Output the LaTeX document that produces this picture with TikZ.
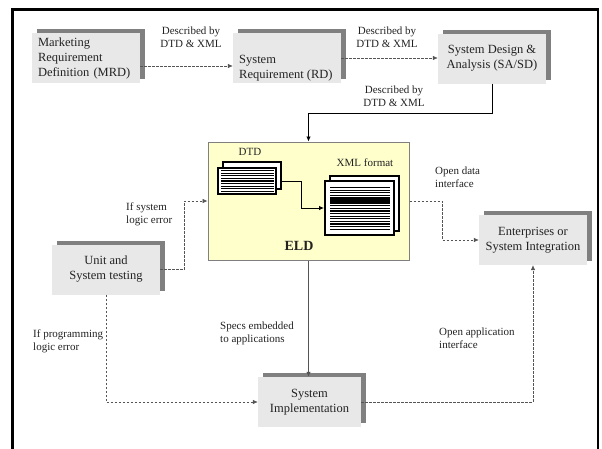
\documentclass[tikz,border=0pt]{standalone}
\usepackage{fontspec}
\setmainfont{Liberation Serif}
\usetikzlibrary{arrows.meta,shadows}
\definecolor{boxgray}{HTML}{E8E8E8}
\definecolor{shadowgray}{HTML}{808080}
\definecolor{eldfill}{HTML}{FFFFCC}
\definecolor{linkgray}{HTML}{555555}
\definecolor{inkcol}{HTML}{222222}
\begin{document}
\begin{tikzpicture}[x=1pt,y=-1pt,
  box/.style={fill=boxgray, minimum width=108pt, minimum height=50pt,
    inner xsep=6pt, inner ysep=0pt, text=inkcol, align=center,
    font=\fontsize{12.5}{15}\selectfont,
    general shadow={fill=shadowgray, shadow xshift=5pt, shadow yshift=4pt}},
  boxleft/.style={box, text width=96pt, align=left},
  lbl/.style={font=\fontsize{11}{13}\selectfont, text=inkcol, inner sep=0pt, align=left},
  lblc/.style={lbl, align=center},
  tip/.style={-{Latex[length=5pt,width=4.5pt]}},
  dashlink/.style={tip, draw=linkgray, line width=0.6pt, dash pattern=on 2.5pt off 1.5pt},
  solidlink/.style={tip, draw=black, line width=0.8pt},
  doc/.style={draw=black, line width=2pt, fill=white, inner sep=0pt},
  stripe/.style={line width=1.2pt}]
\useasboundingbox (0,0) rectangle (602,448);
\clip (0,0) rectangle (602,448);

% outer frame
\draw[line width=2.5pt] (12.5,470) -- (12.5,9.5) -- (598,9.5) -- (598,470);

% process boxes
\node[boxleft] (mrd) at (86,58) {Marketing\\Requirement\\Definition (MRD)};
\node[box] (rd) at (287,58) {};
\node[lbl, anchor=west, font=\fontsize{12.5}{15}\selectfont] (rdtext) at (239,68) {System\\Requirement (RD)};
\node[box] (sa) at (492,58.5) {System Design \&\\Analysis (SA/SD)};
\node[box] (test) at (106,269.5) {Unit and\\System testing};
\node[box] (ent) at (533,240) {Enterprises or\\System Integration};
\node[box, minimum width=103pt] (impl) at (309.5,402) {System\\Implementation};

% ELD panel
\node[draw=shadowgray, line width=1pt, fill=eldfill, minimum width=201pt,
  minimum height=118pt, inner sep=0pt] (eld) at (308.5,201) {};
\node[lbl] (dtdlbl) at (250,152) {DTD};
\node[lbl] (xmllbl) at (365,163) {XML format};
\node[font=\bfseries\fontsize{14}{16}\selectfont, text=inkcol, inner sep=0pt] (eldlbl) at (299,246) {ELD};

% DTD document stack
\node[doc, minimum width=58pt, minimum height=27pt] (dtdb) at (252,175.5) {};
\node[doc, minimum width=58pt, minimum height=26pt] (dtd) at (247,181) {};
\foreach \i in {0,...,8}
  \draw[stripe] (221,170.5+2.6*\i) -- (274,170.5+2.6*\i);

% XML document stack
\node[doc, minimum width=69pt, minimum height=55pt] (xmlb) at (364.5,203.5) {};
\node[doc, minimum width=69pt, minimum height=54pt] (xml) at (359.5,208) {};
\foreach \i in {0,...,16}
  \draw[stripe] (330,187.5+2.6*\i) -- (390,187.5+2.6*\i);
\fill (330,199) rectangle (390,203.5);

\draw[solidlink] ([xshift=5pt]dtd.east) -- ++(19,0) |- (xml.west);

% connectors
\draw[dashlink] ([yshift=-8pt]mrd.east) -- ([yshift=-8pt]mrd.east -| rd.west);
\draw[dashlink] (rd.east) -- (rd.east -| sa.west);
\draw[solidlink] (sa.south) -- ++(0,30) -| (eld.north);
\draw[tip, draw=linkgray, line width=1.3pt] (eld.south) -- (eld.south |- impl.north);
\draw[dashlink] (test.east) -- ++(24,0) |- (eld.west);
\draw[dashlink] (test.south) |- (impl.west);
\draw[dashlink] (eld.east) -- ++(33,0) |- (ent.west);
\draw[dashlink] (impl.east) -| (ent.south);

% connector labels
\node[lblc] (d1) at (191,37.5) {Described by\\DTD \& XML};
\node[lblc] (d2) at (387,37.5) {Described by\\DTD \& XML};
\node[lblc] (d3) at (394,96) {Described by\\DTD \& XML};
\node[lbl, anchor=west] (l1) at (126,214) {If system\\logic error};
\node[lbl, anchor=west] (l2) at (33,341.5) {If programming\\logic error};
\node[lbl, anchor=west] (l3) at (220,333) {Specs embedded\\to applications};
\node[lbl, anchor=west] (l4) at (439,338) {Open application\\interface};
\node[lbl, anchor=west] (l5) at (435,177) {Open data\\interface};
\end{tikzpicture}
\end{document}
